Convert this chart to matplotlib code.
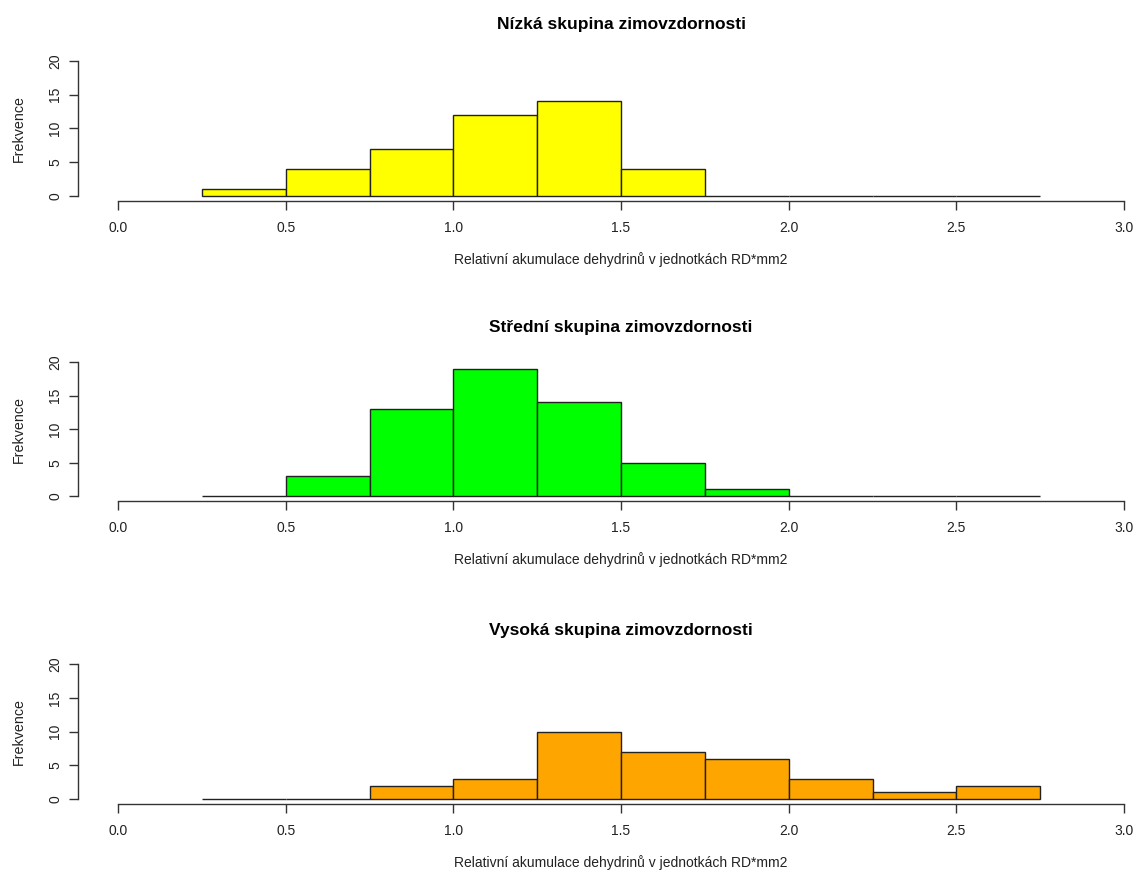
import matplotlib
matplotlib.use("Agg")
import matplotlib.pyplot as plt
import numpy as np

bin_edges = [0.25, 0.5, 0.75, 1.0, 1.25, 1.5, 1.75, 2.0, 2.25, 2.5, 2.75]
low_counts = [1, 4, 7, 12, 14, 4, 0, 0, 0, 0]
mid_counts = [0, 3, 13, 19, 14, 5, 1, 0, 0, 0]
high_counts = [0, 0, 2, 3, 10, 7, 6, 3, 1, 2]
titles = ["Nízká skupina zimovzdornosti",
          "Střední skupina zimovzdornosti",
          "Vysoká skupina zimovzdornosti"]
colors = ["#FFFF00", "#00FF00", "#FFA500"]
x_ticks = [0.0, 0.5, 1.0, 1.5, 2.0, 2.5, 3.0]
x_tick_labels = ["0.0", "0.5", "1.0", "1.5", "2.0", "2.5", "3.0"]
y_ticks = [0, 5, 10, 15, 20]
xlabel = "Relativní akumulace dehydrinů v jednotkách RD*mm2"
ylabel = "Frekvence"

plt.rcParams['font.family'] = ['Liberation Sans', 'DejaVu Sans']

W, H = 1137, 872
fig = plt.figure(figsize=(W / 100, H / 100), dpi=100)

# pixel geometry of plot regions (top, bottom)
px_per_x = 1006 / 3.0
left_px = 118 - 0.12 * px_per_x
width_px = 3.24 * px_per_x
regions = [(55.6, 201.4), (357.0, 501.5), (658.8, 804.4)]
title_pads = [19.5, 18, 17]

edges = np.array(bin_edges)
lefts = edges[:-1]
widths = np.diff(edges)

for counts, title, col, (top, bot), tp in zip([low_counts, mid_counts, high_counts], titles, colors, regions, title_pads):
    ax = fig.add_axes([left_px / W, 1 - bot / H, width_px / W, (bot - top) / H])
    ax.bar(lefts, counts, width=widths, align='edge', color=col,
           edgecolor='#222222', linewidth=1.0)
    ax.set_xlim(-0.12, 3.12)
    ax.set_ylim(-0.8, 20.8)
    for s in ['top', 'right']:
        ax.spines[s].set_visible(False)
    ax.spines['left'].set_bounds(0, 20)
    ax.spines['bottom'].set_bounds(0, 3)
    for s in ['left', 'bottom']:
        ax.spines[s].set_color('#333333')
        ax.spines[s].set_linewidth(1.0)
    ax.set_xticks(x_ticks)
    ax.set_xticklabels(x_tick_labels)
    ax.set_yticks(y_ticks)
    ax.set_yticklabels([str(v) for v in y_ticks], rotation=90, va='center')
    ax.tick_params(axis='both', length=6.5, width=1.0, color='#333333',
                   labelsize=10, labelcolor='#222222')
    ax.tick_params(axis='x', pad=7.5)
    ax.tick_params(axis='y', pad=4.5)
    ax.set_xlabel(xlabel, fontsize=10, color='#222222', labelpad=12.5)
    ax.set_ylabel(ylabel, fontsize=10.3, color='#222222', labelpad=16)
    ax.set_title(title, fontsize=12.5, fontweight='bold', pad=tp)
    ax.patch.set_visible(False)

fig.savefig("out.png", dpi=100)
